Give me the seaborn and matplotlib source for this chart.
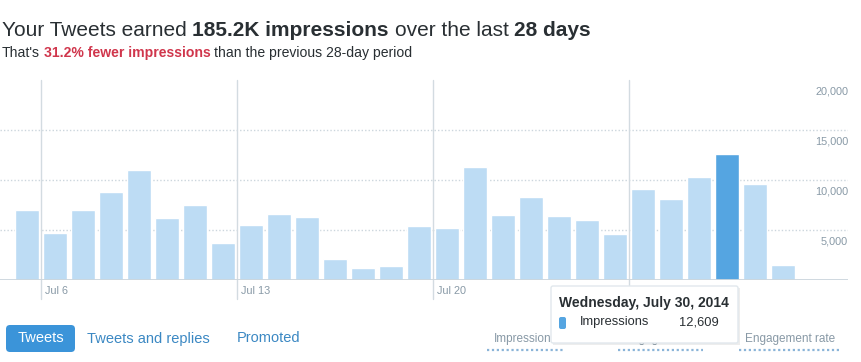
import matplotlib
matplotlib.use("Agg")
import matplotlib.pyplot as plt
import matplotlib.transforms as mtrans
from matplotlib.patches import FancyBboxPatch, Rectangle
import seaborn as sns
import pandas as pd

# daily impressions, Jul 5 - Aug 1 2014
days = pd.date_range("2014-07-05", "2014-08-01", freq="D").strftime("%Y-%m-%d")
impressions = [7030, 4730, 7030, 8830, 11030, 6230, 7530, 3730, 5530, 6630,
               6330, 2130, 1230, 1430, 5430, 5230, 11330, 6530, 8330, 6430,
               6030, 4630, 9130, 8130, 10330, 12609, 9630, 1530]
selected_day = "2014-07-30"
week_days = ["2014-07-06", "2014-07-13", "2014-07-20", "2014-07-27"]
week_labels = ["Jul 6", "Jul 13", "Jul 20", "Jul 27"]
y_ticks = [5000, 10000, 15000, 20000]

LIGHT = "#bddcf4"
DARK = "#55a5e1"
GRID = "#ccd6dd"
GREY = "#8899a6"
INK = "#292f33"
RED = "#d0364c"
LINK = "#3b88c3"

sns.set_style("white")
plt.rcParams["font.family"] = ["Liberation Sans", "DejaVu Sans"]

df = pd.DataFrame({"day": days, "impressions": impressions})
df["selected"] = df["day"] == selected_day

fig = plt.figure(figsize=(8.61, 3.62), dpi=100)
ax = fig.add_axes([0, 82 / 362, 848 / 861, 200 / 362])
sns.barplot(data=df, x="day", y="impressions", hue="selected",
            palette={False: LIGHT, True: DARK}, width=24 / 28, dodge=False,
            legend=False, saturation=1, ax=ax, zorder=3)
ax.set_xlim(-27 / 28, -27 / 28 + 848 / 28)
ax.set_ylim(0, 20000)
ax.set_xticks([])
ax.set_yticks([])
ax.set_xlabel("")
ax.set_ylabel("")
sns.despine(ax=ax, left=True, bottom=True)

# dotted grid + baseline
for v in y_ticks[:-1]:
    ax.axhline(v, color=GRID, lw=1, ls=(0, (1, 1.5)), zorder=1)
ax.axhline(0, color=GRID, lw=1.3, zorder=4)

# right side value labels
ytrans = mtrans.blended_transform_factory(ax.transAxes, ax.transData)
for v in y_ticks:
    ax.text(1.0, v - 1100, f"{v:,}", transform=ytrans, ha="right", va="center",
            color=GREY, fontsize=7.8)

# week separators
pos = {d: i for i, d in enumerate(df["day"])}
for d, lab in zip(week_days, week_labels):
    x = pos[d] - 0.5
    ax.axvline(x, ymin=-0.095, ymax=1, color="#d3dbe1", lw=1, zorder=2, clip_on=False)
    ax.text(x + 0.15, -1100, lab, ha="left", va="center", color=GREY,
            fontsize=7.8, clip_on=False)

# overlay in pixel coordinates for the page furniture
ui = fig.add_axes([0, 0, 1, 1])
ui.set_xlim(0, 861)
ui.set_ylim(362, 0)
ui.axis("off")
r = fig.canvas.get_renderer()


def text_width(s, size, weight):
    t = ui.text(0, 0, s, fontsize=size, fontweight=weight)
    w = t.get_window_extent(r).width
    t.remove()
    return w


def rich(x, y, parts, size):
    for txt, weight, color in parts:
        space = text_width("a a", size, weight) - text_width("aa", size, weight)
        if txt.startswith(" "):
            x += space
        t = ui.text(x, y, txt.strip(), fontsize=size, fontweight=weight,
                    color=color, va="baseline", ha="left")
        x += t.get_window_extent(r).width
        if txt.endswith(" "):
            x += space


rich(2, 36, [("Your Tweets earned ", "normal", INK),
             ("185.2K impressions", "bold", INK),
             (" over the last ", "normal", INK),
             ("28 days", "bold", INK)], 15.0)
rich(2, 57, [("That's ", "normal", INK),
             ("31.2% fewer impressions", "bold", RED),
             (" than the previous 28-day period", "normal", INK)], 10.1)

# tabs
ui.add_patch(FancyBboxPatch((6, 325), 69, 27, boxstyle="round,pad=0,rounding_size=4",
                            fc="#3b94d9", ec="none"))
ui.text(40.5, 338.5, "Tweets", color="white", fontsize=10.5, ha="center", va="center")
ui.text(87, 338.5, "Tweets and replies", color=LINK, fontsize=10.5, va="center")
ui.text(237, 338.5, "Promoted", color=LINK, fontsize=10.5, va="center")

metric_tabs = [("Impressions", 526, 487, 565), ("Engagements", 660, 618, 703),
               ("Engagement rate", 790, 739, 841)]
for name, cx, x0, x1 in metric_tabs:
    ui.text(cx, 339, name, color=GREY, fontsize=8.5, ha="center", va="center", zorder=2)
    ui.plot([x0, x1], [350, 350], color="#8ab4d8", lw=1.6, ls=(0, (1, 1.2)), zorder=2)

# tooltip
ui.add_patch(Rectangle((553, 288), 187, 57, fc="black", alpha=0.07, ec="none", zorder=5))
ui.add_patch(FancyBboxPatch((551, 286), 187, 57, boxstyle="round,pad=0,rounding_size=2",
                            fc="white", ec="#e1e8ed", lw=1, zorder=6))
ui.text(559, 303, "Wednesday, July 30, 2014", fontsize=10, fontweight="bold",
        color=INK, va="center", zorder=7)
ui.add_patch(FancyBboxPatch((559, 317), 7, 12, boxstyle="round,pad=0,rounding_size=2",
                            fc=DARK, ec="none", zorder=7))
ui.text(580, 322.5, "Impressions", fontsize=9.3, color=INK, va="center", zorder=7)
ui.text(719, 322.5, f"{impressions[pos[selected_day]]:,}", fontsize=9.3, color=INK,
        ha="right", va="center", zorder=7)

fig.savefig("out.png", dpi=100)
